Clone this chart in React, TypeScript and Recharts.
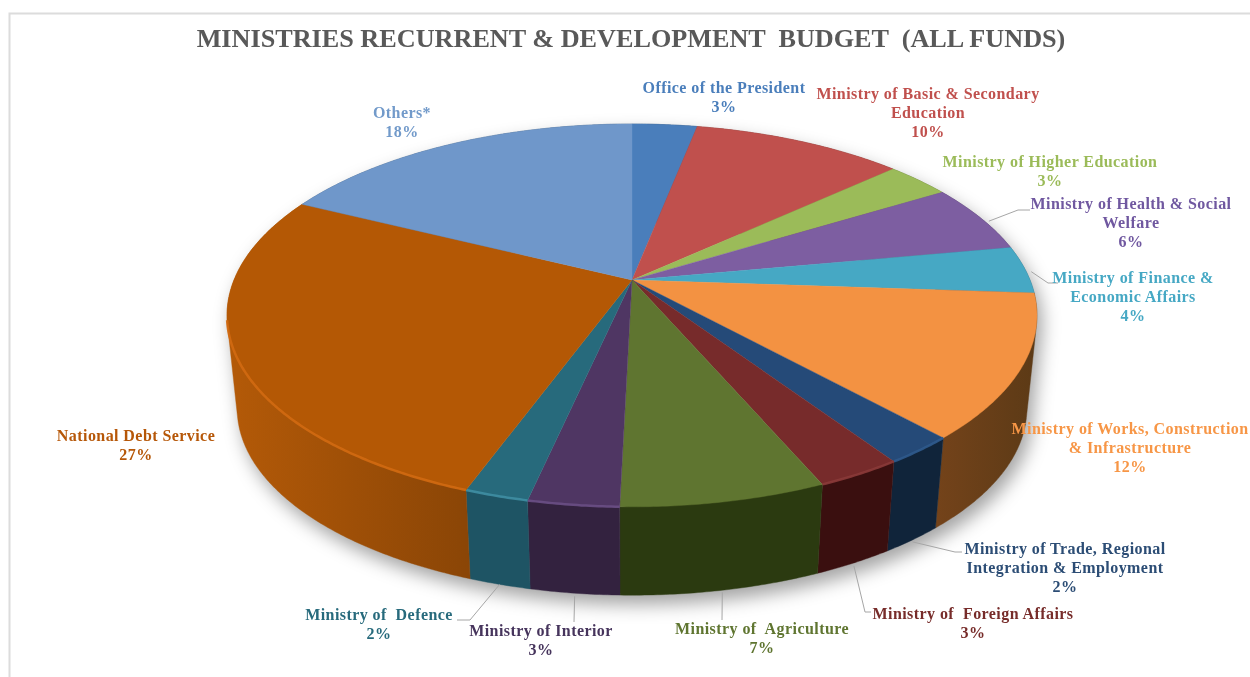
import * as React from "react";
import { PieChart, Pie } from "recharts";

const names = [
  "Office of the President",
  "Ministry of Basic & Secondary Education",
  "Ministry of Higher Education",
  "Ministry of Health & Social Welfare",
  "Ministry of Finance & Economic Affairs",
  "Ministry of Works, Construction & Infrastructure",
  "Ministry of Trade, Regional Integration & Employment",
  "Ministry of Foreign Affairs",
  "Ministry of Agriculture",
  "Ministry of Interior",
  "Ministry of Defence",
  "National Debt Service",
  "Others*",
];
// the labels only show these rounded
const shares = [3.1, 10.1, 3.1, 5.8, 4.0, 12.1, 2.4, 2.9, 6.9, 3.05, 2.15, 26.7, 17.7];

const topColors = ["#4a7ebb", "#c0504d", "#9bbb59", "#7d5ea1", "#46a8c4", "#f39242", "#254a78", "#772b2b", "#5f7530", "#4f3663", "#276a7c", "#b45805", "#6f97ca"];
const textColors = ["#4a7ebb", "#c0504d", "#9bbb59", "#7058a0", "#46a8c4", "#f79646", "#2c4d75", "#772c2a", "#5f7530", "#46345c", "#276a7c", "#b65708", "#729aca"];
const wallFrom = ["#2c4c70", "#74302e", "#5e7136", "#4d3c62", "#2d6777", "#74431a", "#10243a", "#3a0f0f", "#2b3a10", "#33223f", "#1e5464", "#b45a08", "#44607f"];
const wallTo = ["#2c4c70", "#74302e", "#5e7136", "#4d3c62", "#2d6777", "#5c3a16", "#10243a", "#3a0f0f", "#2b3a10", "#33223f", "#1e5464", "#8a4506", "#44607f"];
const rimColors = ["none", "none", "none", "none", "none", "none", "#2f5a8c", "#8a3a38", "none", "#6a4f85", "#3f8ea3", "#d26a12", "none"];

const labelLines = [
  ["Office of the President", "3%"],
  ["Ministry of Basic & Secondary", "Education", "10%"],
  ["Ministry of Higher Education", "3%"],
  ["Ministry of Health & Social", "Welfare", "6%"],
  ["Ministry of Finance &", "Economic Affairs", "4%"],
  ["Ministry of Works, Construction", "& Infrastructure", "12%"],
  ["Ministry of Trade, Regional", "Integration & Employment", "2%"],
  ["Ministry of  Foreign Affairs", "3%"],
  ["Ministry of  Agriculture", "7%"],
  ["Ministry of Interior", "3%"],
  ["Ministry of  Defence", "2%"],
  ["National Debt Service", "27%"],
  ["Others*", "18%"],
];

// label centre and the y of the first line
const labelAnchors = [
  [724, 88], [928, 94], [1050, 162], [1131, 204], [1133, 278], [1130, 429], [1065, 549],
  [973, 614], [762, 629], [541, 631], [379, 615], [136, 436], [402, 113],
];
// leader lines: nudge from the computed rim point, then the elbows
const leaders: Record<number, { base: boolean; nudge: number[]; pts: number[][] }> = {
  3: { base: false, nudge: [8, 3], pts: [[1018, 210], [1030, 210]] },
  4: { base: false, nudge: [6, 2], pts: [[1048, 283], [1058, 283]] },
  6: { base: true, nudge: [0, 2], pts: [[955, 552], [962, 552]] },
  7: { base: true, nudge: [0, 3], pts: [[865, 612], [871, 612]] },
  8: { base: true, nudge: [0, 2], pts: [[722, 620]] },
  9: { base: true, nudge: [0, 3], pts: [[574, 622]] },
  10: { base: true, nudge: [0, 0], pts: [[470, 620], [457, 620]] },
};

const CX = 632;
const CY = 280;
const RADIUS = 398;
// perspective of the tilted disc
const Y_SQUASH = 184.9 / 398;
const TILT = 0.185;
const BASE_SCALE = 0.975;
const BASE_DROP = 94;

function rimPoint(angle: number, base = false): number[] {
  const rad = (angle * Math.PI) / 180;
  const s = Math.cos(rad);
  const v = -Math.sin(rad);
  const w = 1 - TILT * v;
  const dx = (RADIUS * s) / w;
  const dy = (RADIUS * Y_SQUASH * v) / w;
  if (base) return [CX + dx * BASE_SCALE, CY + BASE_DROP + dy * BASE_SCALE];
  return [CX + dx, CY + dy];
}

function arcPoints(start: number, end: number, base = false): number[][] {
  const n = Math.max(2, Math.ceil(Math.abs(end - start) * 2));
  const pts: number[][] = [];
  for (let i = 0; i <= n; i++) pts.push(rimPoint(start + ((end - start) * i) / n, base));
  return pts;
}

const toPath = (pts: number[][]) => pts.map((p, i) => `${i ? "L" : "M"}${p[0].toFixed(2)} ${p[1].toFixed(2)}`).join(" ");

// the wall outline has to bridge top rim and base at the disc's far left and right
function hull(points: number[][]): number[][] {
  const pts = [...points].sort((a, b) => a[0] - b[0] || a[1] - b[1]);
  const cross = (o: number[], a: number[], b: number[]) => (a[0] - o[0]) * (b[1] - o[1]) - (a[1] - o[1]) * (b[0] - o[0]);
  const half = (list: number[][]) => {
    const out: number[][] = [];
    for (const p of list) {
      while (out.length > 1 && cross(out[out.length - 2], out[out.length - 1], p) <= 0) out.pop();
      out.push(p);
    }
    out.pop();
    return out;
  };
  return [...half(pts), ...half([...pts].reverse())];
}

function TopSlice(props: any) {
  const pts = arcPoints(props.startAngle, props.endAngle);
  const d = `M${CX} ${CY} ${toPath(pts).replace("M", "L")} Z`;
  const rim = props.payload?.rim ?? props.rim;
  // the lit edge only shows on the front of the disc
  const front = pts.filter((p) => p[1] > CY + 40);
  return (
    <g>
      <path d={d} fill={props.fill} stroke={props.fill} strokeWidth={0.4} />
      {rim !== "none" && front.length > 1 && <path d={toPath(front)} fill="none" stroke={rim} strokeWidth={2.5} opacity={0.9} />}
    </g>
  );
}

function WallSlice(props: any) {
  const top = arcPoints(props.startAngle, props.endAngle);
  const bottom = arcPoints(props.endAngle, props.startAngle, true);
  return <path d={`${toPath(hull([...top, ...bottom]))} Z`} fill={props.fill} stroke={props.fill} strokeWidth={0.4} />;
}

function SliceLabel(props: any) {
  const i = props.index;
  const [x, y] = labelAnchors[i];
  const leader = leaders[i];
  let line = null;
  if (leader) {
    const p = rimPoint(props.midAngle, leader.base);
    const pts = [[p[0] + leader.nudge[0], p[1] + leader.nudge[1]], ...leader.pts];
    line = <path d={toPath(pts)} fill="none" stroke="#a6a6a6" strokeWidth={1} />;
  }
  return (
    <g>
      {line}
      <text textAnchor="middle" fontFamily="'Liberation Serif', serif" fontWeight="bold" fontSize={16} letterSpacing={0.43} fill={textColors[i]} style={{ whiteSpace: "pre" }}>
        {labelLines[i].map((t, k) => (
          <tspan key={k} x={x} y={y + 5 + k * 19}>{t}</tspan>
        ))}
      </text>
    </g>
  );
}

const topData = names.map((name, i) => ({ name, value: shares[i], fill: topColors[i], rim: rimColors[i] }));
const wallData = names.map((name, i) => ({ name, value: shares[i], fill: `url(#wall${i})` }));

export default function App() {
  return (
    <div style={{ position: "absolute", left: 0, top: 0, width: 1250, height: 677, background: "#fff", filter: "blur(0.4px)", overflow: "hidden" }}>
      <style>{`.pie-walls { filter: drop-shadow(5px 9px 9px rgba(0,0,0,0.36)); }`}</style>
      <PieChart width={1250} height={677} margin={{ top: 0, right: 0, bottom: 0, left: 0 }}>
        <defs>
          {names.map((_, i) => (
            <linearGradient key={i} id={`wall${i}`} x1="0" y1="0" x2="1" y2="0">
              <stop offset="0%" stopColor={wallFrom[i]} />
              <stop offset="100%" stopColor={wallTo[i]} />
            </linearGradient>
          ))}
        </defs>
        <rect x={9.5} y={13.5} width={1260} height={700} fill="none" stroke="#dcdcdc" strokeWidth={2} />
        <text x={631} y={47} textAnchor="middle" fontFamily="'Liberation Serif', serif" fontWeight="bold" fontSize={26.2} fill="#595959" style={{ whiteSpace: "pre" }}>
          MINISTRIES RECURRENT &amp; DEVELOPMENT  BUDGET  (ALL FUNDS)
        </text>
        <Pie
          className="pie-walls"
          data={wallData}
          dataKey="value"
          nameKey="name"
          cx={CX}
          cy={CY}
          outerRadius={RADIUS}
          startAngle={90}
          endAngle={-270}
          paddingAngle={0}
          stroke="none"
          shape={WallSlice}
          isAnimationActive={false}
        />
        <Pie
          data={topData}
          dataKey="value"
          nameKey="name"
          cx={CX}
          cy={CY}
          outerRadius={RADIUS}
          startAngle={90}
          endAngle={-270}
          paddingAngle={0}
          stroke="none"
          shape={TopSlice}
          label={SliceLabel}
          labelLine={false}
          isAnimationActive={false}
        />
      </PieChart>
    </div>
  );
}
